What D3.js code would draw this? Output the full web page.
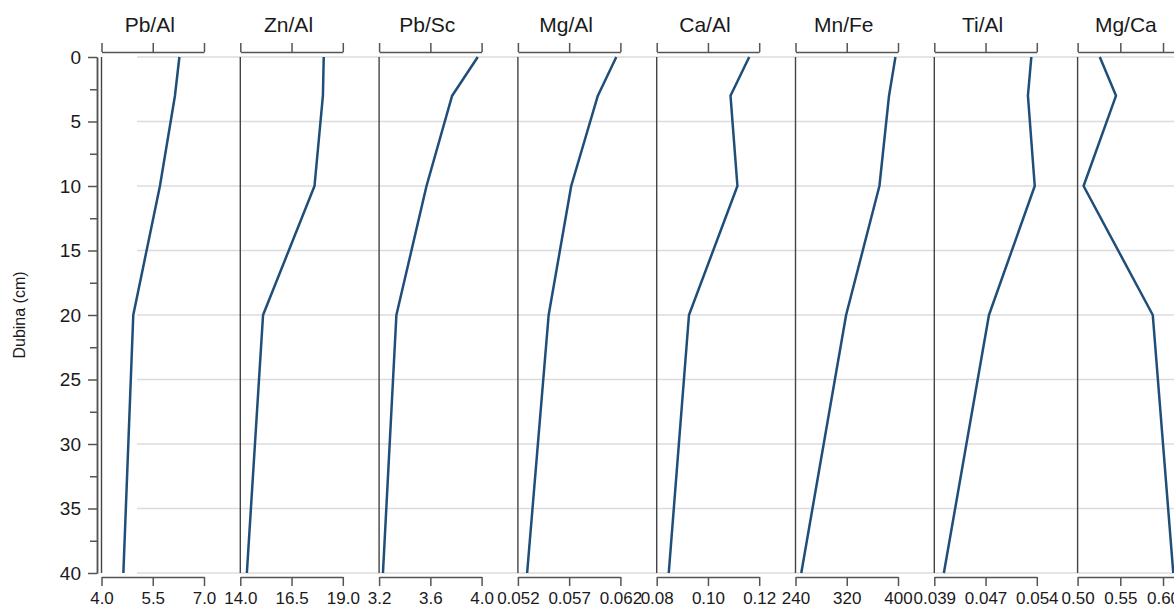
<!DOCTYPE html>
<html lang="en">
<head>
<meta charset="utf-8">
<script src="https://cdn.jsdelivr.net/npm/d3@7"></script>
<style>
  body{margin:0;background:#fff;}
  text{font-family:Arial,"Liberation Sans",sans-serif;fill:#1a1a1a;}
  .axis path,.axis line{stroke:#555;stroke-width:1.5px;}
</style>
</head>
<body>
<div id="chart"></div>
<script>
// depth of samples (cm)
var depths=[0,3,10,20,40];

var names=["Pb/Al","Zn/Al","Pb/Sc","Mg/Al","Ca/Al","Mn/Fe","Ti/Al","Mg/Ca"];

// ratio values at each depth
var pbAl=[6.28,6.15,5.71,4.93,4.64];
var znAl=[18.07,18.03,17.62,15.11,14.32];
var pbSc=[3.97,3.77,3.57,3.335,3.23];
var mgAl=[0.0616,0.0598,0.0572,0.0550,0.0529];
var caAl=[0.1161,0.1088,0.1115,0.0926,0.0847];
var mnFe=[396,386,371,319,249];
var tiAl=[0.0532,0.0527,0.0537,0.0470,0.0404];
var mgCa=[0.526,0.545,0.507,0.588,0.612];

var series=[pbAl,znAl,pbSc,mgAl,caAl,mnFe,tiAl,mgCa];

var domains=[[4,7],[14,19],[3.2,4.0],[0.052,0.062],[0.08,0.12],[240,400],[0.039,0.054],[0.50,0.62]];
var tickVals=[[4,5.5,7],[14,16.5,19],[3.2,3.6,4.0],[0.052,0.057,0.062],[0.08,0.10,0.12],[240,320,400],[0.039,0.0465,0.054],[0.50,0.55,0.60]];
var tickLabels=[["4.0","5.5","7.0"],["14.0","16.5","19.0"],["3.2","3.6","4.0"],["0.052","0.057","0.062"],["0.08","0.10","0.12"],["240","320","400"],["0.039","0.047","0.054"],["0.50","0.55","0.60"]];

var depthMajor=[0,5,10,15,20,25,30,35,40];
var depthMinor=[2.5,7.5,12.5,17.5,22.5,27.5,32.5,37.5];

var width=1174, height=607;
var yTop=57, yBottom=573;
var panelW=102.5, step=138.8;

var svg=d3.select("#chart").append("svg")
  .attr("width",width)
  .attr("height",height);

var y=d3.scaleLinear().domain([0,40]).range([yTop,yBottom]);

// gridlines
svg.append("g").selectAll("line")
  .data(depthMajor)
  .enter()
  .append("line")
  .attr("x1",137).attr("x2",width)
  .attr("y1",function(d){return y(d);})
  .attr("y2",function(d){return y(d);})
  .style("stroke","#dcdcdc")
  .style("stroke-width","1.5px");

// depth axis
svg.append("g")
  .attr("class","axis")
  .attr("transform","translate(97,0)")
  .call(d3.axisLeft(y).tickValues(depthMajor).tickSize(9).tickSizeOuter(0).tickPadding(7))
  .selectAll("text")
  .style("font-size","19px");

svg.append("g")
  .attr("class","axis")
  .attr("transform","translate(97,0)")
  .call(d3.axisLeft(y).tickValues(depthMinor).tickSize(7).tickSizeOuter(0).tickFormat(""));

svg.append("text")
  .attr("transform","translate(25,"+((yTop+yBottom)/2)+") rotate(-90)")
  .attr("text-anchor","middle")
  .style("font-size","16px")
  .text("Dubina (cm)");

var line=d3.line();

names.forEach(function(name,i){
  var left=101.5+i*step+(i==7?4.5:0);
  var x=d3.scaleLinear().domain(domains[i]).range([left,left+panelW]);
  var g=svg.append("g");

  // panel baseline
  g.append("line")
    .attr("x1",left).attr("x2",left)
    .attr("y1",yTop).attr("y2",yBottom)
    .style("stroke","#444")
    .style("stroke-width","1.4px");

  // top axis
  g.append("g")
    .attr("class","axis")
    .attr("transform","translate(0,52)")
    .call(d3.axisTop(x).tickValues(tickVals[i]).tickSize(9).tickSizeOuter(0).tickFormat(""));

  // bottom axis
  g.append("g")
    .attr("class","axis")
    .attr("transform","translate(0,577)")
    .call(d3.axisBottom(x).tickValues(tickVals[i]).tickSize(9).tickSizeOuter(0).tickPadding(6)
      .tickFormat(function(d,j){return tickLabels[i][j];}))
    .selectAll("text")
    .style("font-size","17px");

  g.append("text")
    .attr("x",left+panelW/2-3)
    .attr("y",32)
    .attr("text-anchor","middle")
    .style("font-size","21px")
    .text(name);

  g.append("path")
    .datum(series[i].map(function(v,j){return [x(v),y(depths[j])];}))
    .attr("d",line)
    .style("fill","none")
    .style("stroke","#1f4e79")
    .style("stroke-width","2.5px")
    .style("stroke-linejoin","round");
});
</script>
</body>
</html>
